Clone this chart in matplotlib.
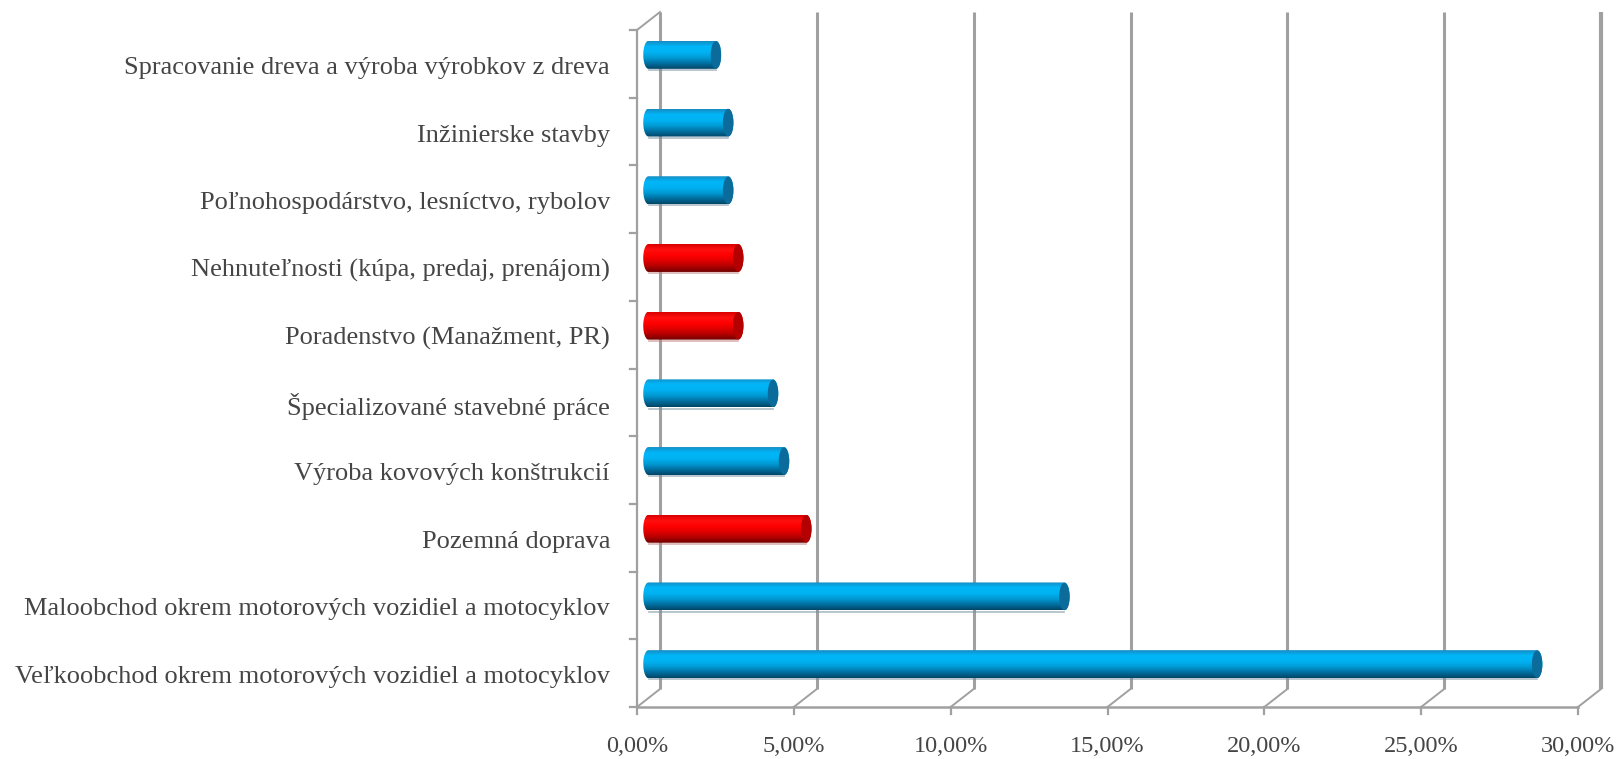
import numpy as np
import matplotlib
matplotlib.use("Agg")
import matplotlib.pyplot as plt
from matplotlib.path import Path
from matplotlib.patches import PathPatch, Ellipse
from matplotlib.colors import LinearSegmentedColormap

# data, listed top to bottom as in the chart
categories = [
    "Spracovanie dreva a výroba výrobkov z dreva",
    "Inžinierske stavby",
    "Poľnohospodárstvo, lesníctvo, rybolov",
    "Nehnuteľnosti (kúpa, predaj, prenájom)",
    "Poradenstvo (Manažment, PR)",
    "Špecializované stavebné práce",
    "Výroba kovových konštrukcií",
    "Pozemná doprava",
    "Maloobchod okrem motorových vozidiel a motocyklov",
    "Veľkoobchod okrem motorových vozidiel a motocyklov",
]
values = [2.15, 2.54, 2.54, 2.86, 2.86, 3.97, 4.32, 5.03, 13.26, 28.33]
highlight = [False, False, False, True, True, False, False, True, False, False]
x_ticks = [0, 5, 10, 15, 20, 25, 30]
tick_labels = ["0,00%", "5,00%", "10,00%", "15,00%", "20,00%", "25,00%", "30,00%"]

# plot from bottom up
categories = categories[::-1]
values = values[::-1]
highlight = highlight[::-1]
n = len(categories)

W, H = 1621, 759
fig = plt.figure(figsize=(W / 100, H / 100), dpi=100)

# pixel geometry of the plot box
x0_px, x30_px = 637, 1578
ybot_px, ytop_px = 707, 30
ppx = (x30_px - x0_px) / 30.0          # pixels per percent
ppy = (ybot_px - ytop_px) / n          # pixels per category
dx = 23 / ppx                          # depth offset in data units
dy = 18 / ppy

ax_w = 1605 - x0_px
ax_h = ybot_px - 8
ax = fig.add_axes([x0_px / W, (H - ybot_px) / H, ax_w / W, ax_h / H])
ax.set_axis_off()

grid_col = "#A0A0A0"
text_col = "#454545"
font = "Liberation Serif"

# back wall gridlines and floor diagonals
for v in x_ticks:
    lw = 3.0 if v == x_ticks[-1] else 2.2
    ax.plot([v + dx, v + dx], [dy, n + dy], color=grid_col, lw=lw, zorder=1,
            clip_on=False, solid_capstyle="butt")
    ax.plot([v, v + dx], [0, dy], color=grid_col, lw=1.4, zorder=1, clip_on=False)
    ax.plot([v, v], [0, -7 / ppy], color=grid_col, lw=1.6, zorder=1, clip_on=False)

# left wall
ax.plot([0, dx], [n, n + dy], color=grid_col, lw=1.4, zorder=1, clip_on=False)
ax.plot([0, 0], [0, n], color=grid_col, lw=1.6, zorder=1, clip_on=False)
for k in range(n + 1):
    ax.plot([-7 / ppx, 0], [k, k], color=grid_col, lw=1.6, zorder=1, clip_on=False)
# bottom axis
ax.plot([0, 30], [0, 0], color=grid_col, lw=1.8, zorder=1, clip_on=False)

blue_cmap = LinearSegmentedColormap.from_list(
    "blue_cyl", ["#168CC2", "#00B6F8", "#00B2F2", "#009AD4", "#006E9E", "#004566"])
red_cmap = LinearSegmentedColormap.from_list(
    "red_cyl", ["#D80000", "#FF1010", "#FF0000", "#E00000", "#B00000", "#700000"])
grad = np.linspace(0, 1, 256).reshape(-1, 1)

bar_h = 28 / ppy
cap_w = 10.5 / ppx


def cylinder(x_start, x_end, yc, cmap, cap_col, shadow_col):
    t = np.linspace(np.pi / 2, -np.pi / 2, 40)
    right = np.column_stack([x_end + cap_w / 2 * np.cos(t), yc + bar_h / 2 * np.sin(t)])
    t2 = np.linspace(-np.pi / 2, -3 * np.pi / 2, 40)
    left = np.column_stack([x_start + cap_w / 2 * np.cos(t2), yc + bar_h / 2 * np.sin(t2)])
    verts = np.vstack([right, left, right[:1]])
    codes = [Path.MOVETO] + [Path.LINETO] * (len(verts) - 2) + [Path.CLOSEPOLY]
    path = Path(verts, codes)
    patch = PathPatch(path, facecolor="none", edgecolor="none", zorder=3)
    ax.add_patch(patch)
    # faint shadow below the bar
    ax.plot([x_start, x_end], [yc - bar_h / 2 - 1.2 / ppy] * 2, color=shadow_col,
            lw=1.2, alpha=0.6, zorder=2, clip_on=False)
    im = ax.imshow(grad, extent=[x_start - cap_w / 2, x_end + cap_w / 2,
                                 yc - bar_h / 2, yc + bar_h / 2],
                   aspect="auto", cmap=cmap, origin="upper",
                   interpolation="bilinear", zorder=3)
    im.set_clip_path(patch)
    cap = Ellipse((x_end, yc), cap_w, bar_h * 0.98, facecolor=cap_col,
                  edgecolor="none", zorder=4)
    ax.add_patch(cap)


for i, (val, hl) in enumerate(zip(values, highlight)):
    yc = i + 0.5 + dy / 2
    if hl:
        cylinder(dx / 2, val + dx / 2, yc, red_cmap, "#B40000", "#C08080")
    else:
        cylinder(dx / 2, val + dx / 2, yc, blue_cmap, "#0B6C9C", "#7890A0")

# category labels
for i, lab in enumerate(categories):
    ax.text(-27 / ppx, i + 0.5 - 4 / ppy, lab, ha="right", va="center", fontsize=19,
            family=font, color=text_col)

# x tick labels
for v, lab in zip(x_ticks, tick_labels):
    ax.text(v, -40 / ppy, lab, ha="center", va="center", fontsize=17.5,
            family=font, color=text_col)

ax.set_xlim(0, ax_w / ppx)
ax.set_ylim(0, ax_h / ppy)

fig.savefig("out.png", dpi=100)
plt.close(fig)
